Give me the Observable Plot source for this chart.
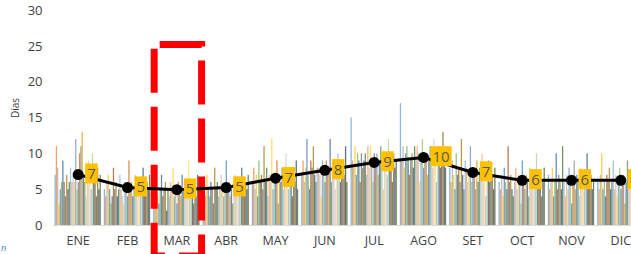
<!DOCTYPE html>
<html>
<head>
<meta charset="utf-8">
<script src="https://cdn.jsdelivr.net/npm/d3@7"></script>
<script src="https://cdn.jsdelivr.net/npm/@observablehq/plot@0.6"></script>
<style>
  html, body { margin: 0; padding: 0; background: #fff; overflow: hidden; width: 631px; height: 254px; }
  #wrap { position: relative; width: 660px; height: 254px; }
  #frag { position: absolute; left: 1px; top: 241px; font: italic 9px "Open Sans", sans-serif; color: #4472C4; }
</style>
</head>
<body>
<div id="wrap"><div id="frag">n</div></div>
<script>
// Month categories
const months = ["ENE","FEB","MAR","ABR","MAY","JUN","JUL","AGO","SET","OCT","NOV","DIC"];
// Monthly average (line)
const promedio = [7.1, 5.3, 5.0, 5.3, 6.6, 7.7, 8.8, 9.5, 7.4, 6.3, 6.3, 6.3];
// Individual bars per month (one per series / year), in days
const ene = [7,11,8,3,5,6,9,6,4,7,5,6,8,6,7,6,12,5,6,10,11,13,7,6,4,8,9,6,5,10,7,6,4,8,5,7];
const feb = [5,4,6,7,5,3,4,8,5,6,4,5,7,5,4,3,6,5,4,9,5,6,4,5,7,6,5,4,6,5,8,4,5,6,5,7];
const mar = [4,5,6,4,3,5,7,4,5,6,2,5,4,6,5,8,4,5,3,6,5,4,7,5,6,4,5,9,4,5,6,3,5,4,7,5];
const abr = [5,6,4,7,5,4,6,5,3,8,5,6,4,5,7,6,4,5,9,5,6,4,5,3,6,7,5,4,6,5,8,5,4,6,5,7];
const may = [6,8,5,7,4,9,6,7,5,11,6,8,4,7,6,12,5,7,6,9,3,7,6,8,5,6,10,7,5,6,8,4,7,6,9,5];
const jun = [7,9,6,8,12,7,5,9,8,11,7,6,8,8,7,4,9,8,6,9,7,8,12,6,9,7,5,8,10,7,6,9,8,7,11,6];
const jul = [15,9,8,11,7,10,9,6,10,8,9,10,7,11,8,11,9,6,10,8,10,7,9,11,8,5,10,9,7,12,8,9,6,10,8,9];
const ago = [17,9,11,8,10,11,9,7,9,10,8,11,9,11,10,6,9,12,8,10,10,7,9,11,10,8,12,9,6,10,11,8,9,13,10,8];
const set = [8,6,9,7,5,10,7,8,6,12,7,5,9,8,6,7,11,6,8,7,5,9,6,8,7,10,6,8,4,7,9,6,8,7,5,8];
const oct = [6,5,7,4,8,6,5,11,6,7,5,4,6,8,5,7,6,3,9,6,5,7,6,4,8,6,5,7,6,10,5,6,7,4,6,8];
const nov = [7,5,6,8,4,6,10,5,7,6,5,11,6,4,7,5,8,6,3,6,9,5,7,6,4,8,6,5,7,6,10,5,6,7,5,6];
const dic = [6,5,7,10,5,6,4,7,6,8,5,6,9,5,7,4,6,8,5,6,7,3,6,9,5,7,6,4,8,6,5,7,10,6,5,7];
const yTicks = [0,5,10,15,20,25,30];
const highlightMonth = "MAR";
const highlightTop = 25;

const porMes = [ene,feb,mar,abr,may,jun,jul,ago,set,oct,nov,dic];
const palette = ["#5B9BD5","#ED7D31","#A5A5A5","#FFC000","#4472C4","#70AD47",
                 "#255E91","#9E480E","#636363","#997300","#264478","#43682B",
                 "#7CAFDD","#F1975A","#B7B7B7","#FFCD33","#698ED0","#8CC168",
                 "#327DC2","#D26012","#848484","#CC9A00","#335AA1","#5A8A39",
                 "#9DC3E6","#F4B183","#C9C9C9","#FFD966","#8FAADC","#A9D18E",
                 "#1F4E79","#843C0C","#525252","#7F6000","#203864","#385723"];

const bars = [];
porMes.forEach((vals, m) => vals.forEach((v, i) => bars.push({m, i, n: vals.length, v})));
const line = promedio.map((v, m) => ({m, v}));
const pad = 0.03;

const chart = Plot.plot({
  width: 660, height: 254,
  marginLeft: 53, marginRight: 15, marginTop: 10, marginBottom: 29,
  style: {fontFamily: "'Open Sans', sans-serif", fontSize: "13px", color: "#404040", background: "transparent"},
  x: {domain: [0, 12], axis: null},
  y: {domain: [0, 30], axis: null},
  marks: [
    Plot.rectY(bars, {
      x1: d => d.m + pad + (1 - 2*pad) * d.i / d.n,
      x2: d => d.m + pad + (1 - 2*pad) * (d.i + 1) / d.n,
      y: "v",
      fill: d => palette[d.i % palette.length],
      fillOpacity: 0.72
    }),
    Plot.ruleY([0], {stroke: "#D9D9D9", strokeWidth: 1}),
    Plot.axisY(yTicks, {tickSize: 0, tickPadding: 11, fill: "#404040", fontSize: 13, label: null}),
    Plot.axisX(months.map((_, k) => k + 0.5), {tickSize: 0, tickPadding: 11, tickFormat: k => months[Math.floor(k)], fill: "#404040", fontSize: 12.5, label: null}),
    Plot.text(["Días"], {frameAnchor: "left", rotate: -90, dx: -38, fontSize: 10, fill: "#404040"}),
    Plot.rectY([highlightMonth], {
      x1: d => months.indexOf(d), x2: d => months.indexOf(d) + 1,
      y1: 0, y2: highlightTop,
      insetLeft: 2.5, insetRight: -0.6, insetTop: -1.3, insetBottom: -31,
      fill: "none", stroke: "#FF0000", strokeWidth: 7,
      strokeDasharray: "44 14", strokeDashoffset: 52.5
    }),
    Plot.line(line, {x: d => d.m + 0.5, y: "v", stroke: "black", strokeWidth: 3}),
    Plot.dot(line, {x: d => d.m + 0.5, y: "v", r: 5.5, fill: "black"}),
    Plot.text(line, {x: d => d.m + 0.5, y: "v", text: d => String(Math.round(d.v)), dx: 9, textAnchor: "start", fontSize: 15, fill: "#5a5a4a", className: "lbl"})
  ]
});
document.getElementById("wrap").append(chart);

// yellow boxes behind data labels
d3.select(chart).selectAll(".lbl text").each(function() {
  const b = this.getBBox();
  const r = document.createElementNS("http://www.w3.org/2000/svg", "rect");
  r.setAttribute("x", b.x - 2); r.setAttribute("y", b.y);
  r.setAttribute("width", b.width + 4); r.setAttribute("height", b.height);
  r.setAttribute("fill", "#FFC000");
  const t = this.getAttribute("transform");
  if (t) r.setAttribute("transform", t);
  this.parentNode.insertBefore(r, this);
});
</script>
</body>
</html>
